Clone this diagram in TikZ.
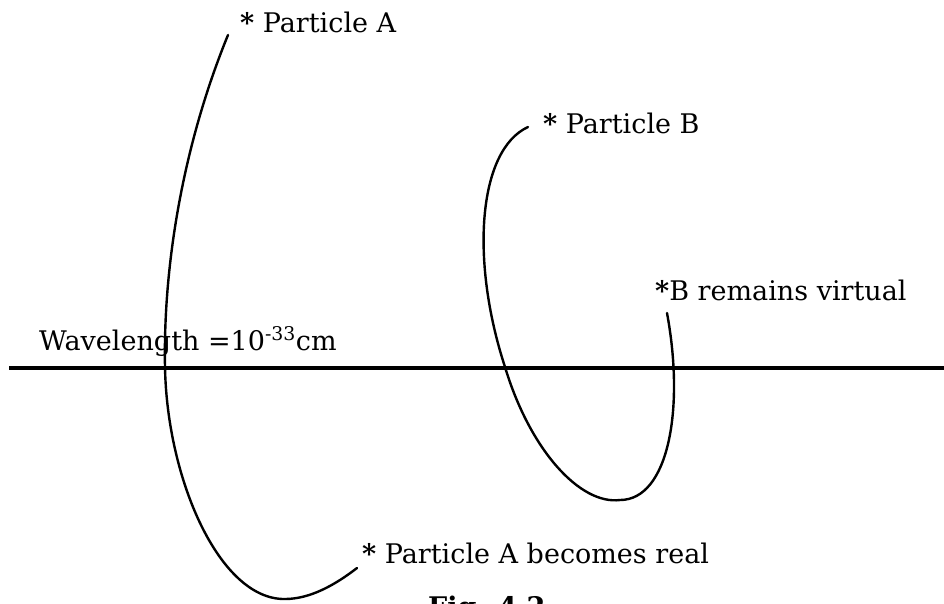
\documentclass[tikz,border=0pt]{standalone}
\usepackage{fontspec}
\setmainfont{DejaVu Serif}
\begin{document}
\begin{tikzpicture}[x=1pt,y=-1pt,
  lbl/.style={anchor=base west,inner sep=0pt,font=\fontsize{27}{31}\selectfont},
  path/.style={line width=2.4pt,line cap=round},
  axis/.style={line width=4pt}]
\useasboundingbox (0,0) rectangle (944,603);
% horizontal line
\coordinate (L) at (9,368);
\coordinate (R) at (944,368);
\draw[axis] (L) -- (R);
% labels
\node[lbl] (pa) at (240,32) {\textbf{*} Particle A};
\node[lbl] (pb) at (543,133) {\textbf{*} Particle B};
\node[lbl] (bv) at (655,300) {\textbf{*}B remains virtual};
\node[lbl] (wl) at (39,350) {Wavelength =10\textsuperscript{-33}cm};
\node[lbl] (ar) at (362,563) {\textbf{*} Particle A becomes real};
\node[lbl,font=\fontsize{27}{31}\selectfont\bfseries] (fig) at (428,616) {Fig. 4.2};
% curve A
\coordinate (a0) at (228,35);
\coordinate (ax) at (165,367);
\coordinate (ab) at (285,599);
\coordinate (a1) at (357,568);
\draw[path] (a0) .. controls (185,140) and (163,260) .. (ax)
  .. controls (167,480) and (220,600) .. (ab)
  .. controls (310,599) and (335,585) .. (a1);
% curve B
\coordinate (b0) at (528,127);
\coordinate (bx) at (505,367);
\coordinate (bb) at (620,500);
\coordinate (b1) at (667,313);
\draw[path] (b0) .. controls (478,150) and (470,260) .. (bx)
  .. controls (530,450) and (580,505) .. (bb)
  .. controls (668,500) and (685,410) .. (b1);
\end{tikzpicture}
\end{document}
